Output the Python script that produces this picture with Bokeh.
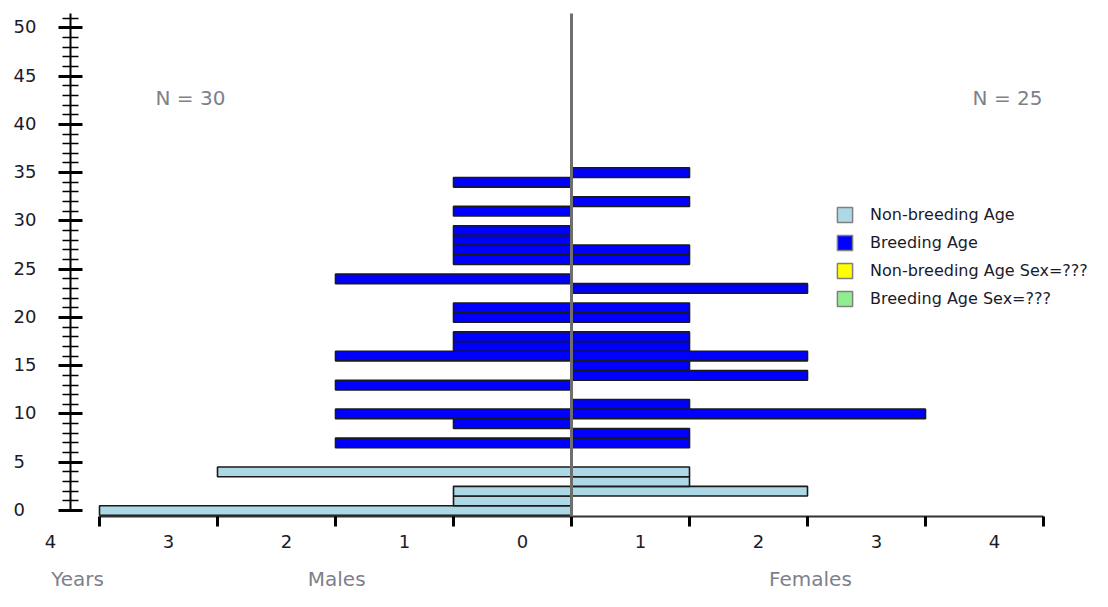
from bokeh.plotting import figure
from bokeh.models import (Range1d, FixedTicker, LabelSet, Label, ColumnDataSource, LinearAxis,
                          Legend, LegendItem, CustomJSTickFormatter)
from bokeh.core.properties import value
from bokeh.embed import file_html
from bokeh.resources import INLINE

# ---------------- data ----------------
male_nonbreed_ages = [0, 1, 2, 4]
male_nonbreed_counts = [4, 1, 1, 3]
male_breed_ages = [7, 9, 10, 13, 16, 17, 18, 20, 21, 24, 26, 27, 28, 29, 31, 34]
male_breed_counts = [2, 1, 2, 2, 2, 1, 1, 1, 1, 2, 1, 1, 1, 1, 1, 1]

female_nonbreed_ages = [2, 3, 4]
female_nonbreed_counts = [2, 1, 1]
female_breed_ages = [7, 8, 10, 11, 14, 15, 16, 17, 18, 20, 21, 23, 26, 27, 32, 35]
female_breed_counts = [1, 1, 3, 1, 2, 1, 2, 1, 1, 1, 1, 2, 1, 1, 1, 1]

n_males = 30
n_females = 25

x_tick_values = [-4, -3, -2, -1, 0, 1, 2, 3, 4]
x_tick_labels = ["4", "3", "2", "1", "0", "1", "2", "3", "4"]
y_tick_values = [0, 5, 10, 15, 20, 25, 30, 35, 40, 45, 50]
y_tick_labels = ["0", "5", "10", "15", "20", "25", "30", "35", "40", "45", "50"]
y_minor_values = list(range(0, 52))

legend_labels = ["Non-breeding Age", "Breeding Age", "Non-breeding Age Sex=???", "Breeding Age Sex=???"]
legend_colors = ["#add8e6", "#0000ff", "#ffff00", "#90ee90"]

axis_titles = ["Years", "Males", "Females"]

# ---------------- styles ----------------
FONT = "DejaVu Sans"
DARK = "#1a1a2a"
GRAY = "#80808a"
BAR_LINE = "#1a1a1a"

# frame covers the whole canvas; axes are placed at fixed locations
p = figure(width=1092, height=591, output_backend="svg", toolbar_location=None,
           x_range=Range1d(-4.839, 4.4153), y_range=Range1d(-8.39, 52.83),
           min_border=0, x_axis_location=None, y_axis_location=None)
p.outline_line_color = None
p.grid.visible = False
p.background_fill_color = "white"
p.border_fill_color = "white"

Y_AXIS_AT = -4.2458   # data x where the age axis stands
X_AXIS_AT = -0.6215   # data y where the count axis stands

# bars
def add_bars(ages, counts, sign, color):
    if sign < 0:
        left = [-c for c in counts]
        right = [0] * len(counts)
    else:
        left = [0] * len(counts)
        right = list(counts)
    src = ColumnDataSource(dict(y=ages, left=left, right=right))
    return p.hbar(y="y", left="left", right="right", height=1.0, source=src,
                  fill_color=color, line_color=BAR_LINE, line_width=1.6)

add_bars(male_nonbreed_ages, male_nonbreed_counts, -1, legend_colors[0])
add_bars(male_breed_ages, male_breed_counts, -1, legend_colors[1])
add_bars(female_nonbreed_ages, female_nonbreed_counts, 1, legend_colors[0])
add_bars(female_breed_ages, female_breed_counts, 1, legend_colors[1])

empty = CustomJSTickFormatter(code="return ''")

# age axis
ya = LinearAxis(fixed_location=Y_AXIS_AT, ticker=FixedTicker(ticks=y_tick_values, minor_ticks=y_minor_values),
                bounds=(0, 51.5), formatter=empty,
                axis_line_color="black", axis_line_width=2,
                major_tick_in=12, major_tick_out=12, major_tick_line_width=3, major_tick_line_color="black",
                minor_tick_in=8, minor_tick_out=8, minor_tick_line_width=1.6, minor_tick_line_color="black")
p.add_layout(ya, "left")

# count axis
xa = LinearAxis(fixed_location=X_AXIS_AT, ticker=FixedTicker(ticks=x_tick_values, minor_ticks=[]),
                bounds=(-4, 4), formatter=empty,
                axis_line_color="#333333", axis_line_width=2,
                major_tick_in=0, major_tick_out=10, major_tick_line_width=3, major_tick_line_color="black")
p.add_layout(xa, "below")

# centre divider line (an axis without ticks at x = 0)
ca = LinearAxis(fixed_location=0, ticker=FixedTicker(ticks=[], minor_ticks=[]), bounds=(X_AXIS_AT, 51.5),
                formatter=empty, axis_line_color="#6e6e6e", axis_line_width=3,
                major_tick_line_color=None, minor_tick_line_color=None)
p.add_layout(ca, "left")

# tick labels (offset as in the original)
xl_src = ColumnDataSource(dict(x=x_tick_values, y=[-3.21] * len(x_tick_values), text=x_tick_labels))
p.add_layout(LabelSet(x="x", y="y", text="text", source=xl_src, x_offset=-49,
                      text_align="center", text_baseline="middle",
                      text_font=value(FONT), text_font_size=value("18px"), text_color=DARK))
yl_src = ColumnDataSource(dict(x=[-4.729] * len(y_tick_values), y=y_tick_values, text=y_tick_labels))
p.add_layout(LabelSet(x="x", y="y", text="text", source=yl_src, y_offset=1,
                      text_align="left", text_baseline="middle",
                      text_font=value(FONT), text_font_size=value("18px"), text_color=DARK))

# N labels
p.add_layout(Label(x=-3.229, y=42.78, text="N = " + str(n_males), text_align="center",
                   text_baseline="middle", text_font=FONT, text_font_size="20px", text_color=GRAY))
p.add_layout(Label(x=3.695, y=42.78, text="N = " + str(n_females), text_align="center",
                   text_baseline="middle", text_font=FONT, text_font_size="20px", text_color=GRAY))

# bottom titles
for t, xv in zip(axis_titles, [-4.186, -1.99, 2.025]):
    p.add_layout(Label(x=xv, y=-7.12, text=t, text_align="center", text_baseline="middle",
                       text_font=FONT, text_font_size="20px", text_color=GRAY))

# legend (proxy renderers that draw nothing in the plot)
nan = float("nan")
items = []
for lab, col in zip(legend_labels, legend_colors):
    r = p.hbar(y=[nan], left=[nan], right=[nan], height=1, fill_color=col,
               line_color="#808080", line_width=1.5)
    items.append(LegendItem(label=lab, renderers=[r]))
legend = Legend(items=items, location=(835, 283), glyph_width=19, glyph_height=19,
                label_height=19, spacing=9, padding=0, margin=0, label_standoff=16,
                label_text_font=FONT, label_text_font_size="16px", label_text_color=DARK,
                border_line_color=None, background_fill_alpha=0)
p.add_layout(legend)

open("out.html", "w").write(file_html(p, INLINE))
